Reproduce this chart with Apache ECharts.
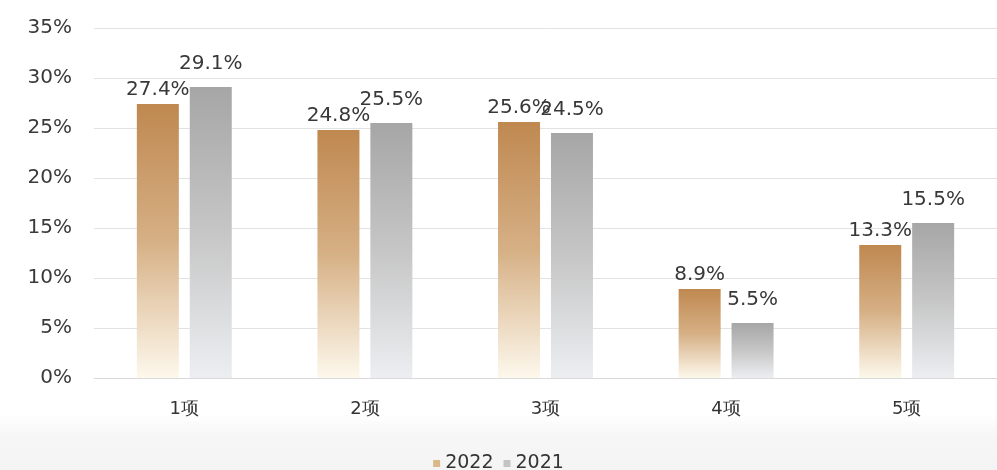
<!DOCTYPE html>
<html><head><meta charset="utf-8">
<script src="https://cdn.jsdelivr.net/npm/echarts@6/dist/echarts.min.js"></script>
<style>html,body{margin:0;padding:0;background:#fff}#c{width:997px;height:470px}</style>
</head><body><div id="c"></div>
<script>
var categories = ['1项', '2项', '3项', '4项', '5项'];
var series2022 = [27.4, 24.8, 25.6, 8.9, 13.3];
var series2021 = [29.1, 25.5, 24.5, 5.5, 15.5];
var yTicks = [0, 5, 10, 15, 20, 25, 30, 35];

var chart = echarts.init(document.getElementById('c'));
var font = 'DejaVu Sans';
function grad(top, mid, bottom) {
  return new echarts.graphic.LinearGradient(0, 0, 0, 1, [
    {offset: 0, color: top}, {offset: 0.5, color: mid}, {offset: 1, color: bottom}
  ]);
}
chart.setOption({
  backgroundColor: new echarts.graphic.LinearGradient(0, 0, 0, 1, [
    {offset: 0, color: '#ffffff'}, {offset: 0.88, color: '#ffffff'}, {offset: 0.93, color: '#f6f6f6'}, {offset: 1, color: '#f4f4f4'}
  ]),
  animation: false,
  grid: {left: 94, right: -2, top: 28, bottom: 92},
  legend: {
    top: 449, left: 'center', itemWidth: 7, itemHeight: 7, itemGap: 10,
    icon: 'rect',
    textStyle: {fontFamily: font, fontSize: 19, color: '#333'},
    data: [
      {name: '2022', itemStyle: {color: '#d9b889'}},
      {name: '2021', itemStyle: {color: '#c4c4c4'}}
    ]
  },
  xAxis: {
    type: 'category', data: categories,
    axisLine: {lineStyle: {color: '#d9d9d9', width: 1}},
    axisTick: {show: false},
    axisLabel: {fontFamily: font, fontSize: 18, color: '#333', margin: 22}
  },
  yAxis: {
    type: 'value', min: yTicks[0], max: yTicks[yTicks.length - 1], interval: 5,
    axisLine: {show: false}, axisTick: {show: false},
    splitLine: {lineStyle: {color: '#e2e2e2', width: 1}},
    axisLabel: {fontFamily: font, fontSize: 20, color: '#3a3a3a', margin: 22, formatter: '{value}%'}
  },
  series: [
    {
      name: '2022', type: 'bar', data: series2022, barWidth: 42, barGap: '26%',
      itemStyle: {color: grad('#bf8850', '#d6b085', '#fdf8ec')},
      label: {show: true, position: 'top', distance: 4, formatter: '{c}%',
        fontFamily: font, fontSize: 20, color: '#383838'}
    },
    {
      name: '2021', type: 'bar', data: series2021, barWidth: 42,
      itemStyle: {color: grad('#a6a6a6', '#c6c6c6', '#eceef1')},
      label: {show: true, position: 'top', distance: 13, formatter: '{c}%',
        fontFamily: font, fontSize: 20, color: '#383838'}
    }
  ]
});
</script></body></html>
